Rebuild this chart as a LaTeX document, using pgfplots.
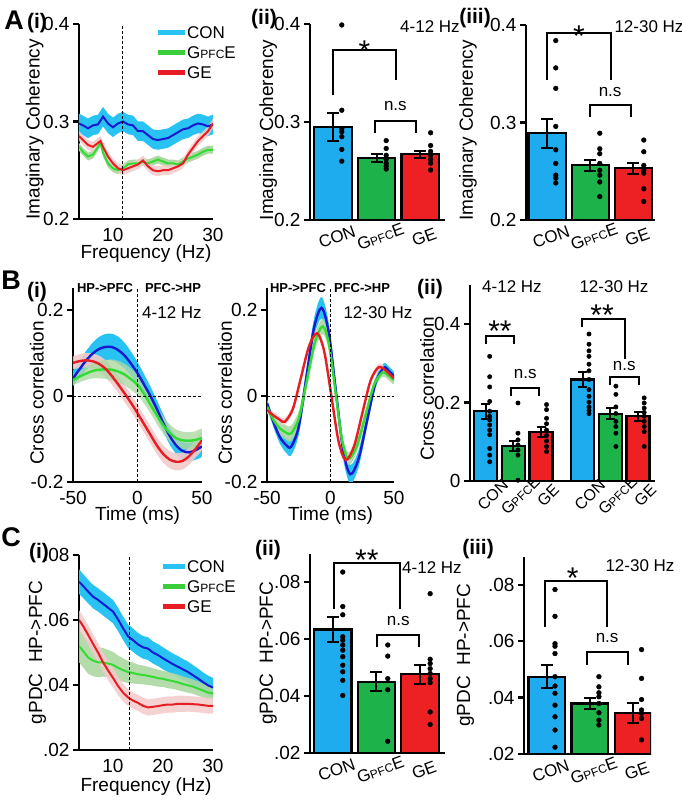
\documentclass[border=0pt]{standalone}
\usepackage{fontspec}
\setmainfont{Liberation Sans}
\usepackage{pgfplots}
\pgfplotsset{compat=1.18}
\usepackage{pgfplotstable}

\definecolor{conband}{RGB}{40,195,242}
\definecolor{conline}{RGB}{25,25,210}
\definecolor{gband}{RGB}{172,216,162}
\definecolor{gline}{RGB}{50,220,50}
\definecolor{geband}{RGB}{242,202,202}
\definecolor{geline}{RGB}{230,30,35}
\definecolor{conbar}{RGB}{30,172,238}
\definecolor{gbar}{RGB}{30,178,75}
\definecolor{gebar}{RGB}{237,32,36}
\definecolor{leggreen}{RGB}{60,205,60}

\newcommand{\gp}{G{\fontsize{12}{12}\selectfont PFC}E}
\newcommand{\fs}[1]{\fontsize{#1}{#1}\selectfont}

% ---------- A(i) mean curves ----------
\pgfplotstableread{
x y
3.2 0.298
4 0.296
5 0.293
6 0.296
7 0.297
8 0.305
9 0.298
10 0.294
11 0.298
12 0.300
13 0.297
14 0.296
15 0.290
16 0.290
17 0.286
18 0.282
19 0.281
20 0.282
21 0.283
22 0.286
23 0.289
24 0.292
25 0.293
26 0.296
27 0.298
28 0.297
29 0.295
30 0.297
}\AconT
\pgfplotstableread{
x y
3.2 0.274
4 0.269
5 0.264
6 0.266
7 0.274
7.5 0.278
8 0.268
9 0.257
10 0.252
11 0.250
12 0.252
13 0.256
14 0.257
15 0.257
16 0.259
17 0.257
18 0.259
19 0.261
20 0.259
21 0.257
22 0.257
23 0.256
24 0.259
25 0.262
26 0.264
27 0.266
28 0.269
29 0.271
30 0.271
}\AgT
\pgfplotstableread{
x y
3.2 0.285
4 0.281
5 0.276
6 0.274
7 0.278
7.5 0.280
8 0.274
9 0.264
10 0.257
11 0.252
12 0.250
13 0.252
14 0.254
15 0.256
16 0.260
17 0.254
18 0.250
19 0.249
20 0.250
21 0.250
22 0.252
23 0.254
24 0.257
25 0.266
26 0.273
27 0.280
28 0.285
29 0.290
30 0.298
}\AgeT

% ---------- B(i) 4-12 Hz mean curves ----------
\pgfplotstableread{
x y
-50 0.041
-45 0.062
-40 0.082
-35 0.098
-30 0.109
-25 0.114
-20 0.114
-15 0.107
-10 0.094
-5 0.075
0 0.053
5 0.027
10 0.000
15 -0.030
20 -0.063
25 -0.093
30 -0.115
35 -0.128
40 -0.131
45 -0.126
50 -0.117
}\BconA
\pgfplotstableread{
x y
-50 0.037
-45 0.045
-40 0.052
-35 0.058
-30 0.061
-25 0.062
-20 0.061
-15 0.057
-10 0.050
-5 0.039
0 0.026
5 0.005
10 -0.020
15 -0.045
20 -0.068
25 -0.086
30 -0.098
35 -0.103
40 -0.104
45 -0.102
50 -0.098
}\BgA
\pgfplotstableread{
x y
-50 0.077
-45 0.081
-40 0.083
-35 0.081
-30 0.075
-25 0.064
-20 0.047
-15 0.027
-10 0.006
-5 -0.016
0 -0.040
5 -0.065
10 -0.090
15 -0.115
20 -0.135
25 -0.148
30 -0.153
35 -0.151
40 -0.140
45 -0.123
50 -0.103
}\BgeA

% ---------- B(i) 12-30 Hz mean curves ----------
\pgfplotstableread{
x y
-50 -0.017
-45 -0.060
-40 -0.095
-35 -0.114
-31 -0.118
-25 -0.071
-19 0.0435
-13 0.158
-7 0.205
-1.4 0.148
4.25 0.0115
9.9 -0.125
15.5 -0.182
22.1 -0.146
28.75 -0.058
35.4 0.030
42 0.066
46 0.058
50 0.046
}\BconB
\pgfplotstableread{
x y
-50 -0.025
-45 -0.055
-40 -0.075
-35 -0.085
-31 -0.087
-24.75 -0.0505
-18.5 0.0375
-12.25 0.1255
-6 0.162
-1 0.117
4 0.008
9 -0.101
14 -0.146
20.75 -0.1166
27.5 -0.0455
34.25 0.0256
41 0.055
45 0.049
50 0.037
}\BgB
\pgfplotstableread{
x y
-50 -0.033
-45 -0.045
-40 -0.055
-36 -0.060
-29.6 -0.0298
-23.25 0.043
-16.9 0.1158
-10.5 0.146
-4.875 0.1028
0.75 -0.0015
6.375 -0.1058
12 -0.149
18.5 -0.1174
25 -0.041
31.5 0.0354
38 0.067
44 0.058
50 0.041
}\BgeB

% ---------- C(i) mean curves ----------
\pgfplotstableread{
x y
3.2 0.0718
4 0.0705
5 0.0688
6 0.0672
7 0.0662
8 0.0650
9 0.0638
10 0.0626
11 0.0602
12 0.0575
13 0.0550
14 0.0538
15 0.0525
16 0.0516
17 0.0512
18 0.0500
19 0.0492
20 0.0482
21 0.0473
22 0.0464
23 0.0456
24 0.0448
25 0.0440
26 0.0430
27 0.0420
28 0.0409
29 0.0399
30 0.0392
}\CconT
\pgfplotstableread{
x y
3.2 0.0520
4 0.0505
5 0.0485
6 0.0475
7 0.0470
8 0.0470
9 0.0466
10 0.0462
11 0.0453
12 0.0446
13 0.0440
14 0.0437
15 0.0433
16 0.0431
17 0.0428
18 0.0425
19 0.0421
20 0.0419
21 0.0415
22 0.0412
23 0.0408
24 0.0403
25 0.0399
26 0.0395
27 0.0389
28 0.0383
29 0.0377
30 0.0374
}\CgT
\pgfplotstableread{
x y
3.2 0.0600
4 0.0582
5 0.0555
6 0.0527
7 0.0500
8 0.0470
9 0.0445
10 0.0422
11 0.0397
12 0.0377
13 0.0362
14 0.0352
15 0.0345
16 0.0336
17 0.0331
18 0.0333
19 0.0335
20 0.0338
21 0.0340
22 0.0340
23 0.0342
24 0.0342
25 0.0342
26 0.0341
27 0.0340
28 0.0338
29 0.0336
30 0.0336
}\CgeT

\pgfplotsset{
  panel/.style={
    scale only axis, anchor=south west,
    axis lines=left, axis line style={line width=2.4pt,-},
    tick align=outside, major tick length=6pt,
    ytick style={line width=2.2pt,black},
    xtick style={draw=none},
    scaled y ticks=false, scaled x ticks=false,
    ticklabel style={font=\fs{19}},
    label style={font=\fs{19}},
    /pgf/number format/assume math mode=true,
  },
  barpanel/.style={panel, clip mode=individual,
    xticklabel style={font=\fs{17}, rotate=20, anchor=north, yshift=-2pt}},
  errb/.style={error bars/.cd, y dir=both, y explicit,
    error bar style={line width=2pt, black},
    error mark options={rotate=90, mark size=#1, line width=2pt, black}},
  dots/.style={only marks, mark=*, mark size=2.4pt, black, mark options={fill=black}},
}
\tikzset{star/.style={font=\fs{30}, inner sep=0pt}}

\begin{document}
\begin{tikzpicture}
\useasboundingbox (0,0) rectangle (682pt,801pt);

% ================= A(i) =================
\begin{axis}[panel, at={(79pt,582pt)}, width=134pt, height=195pt,
  xmin=3.2, xmax=30, ymin=0.2, ymax=0.4,
  xtick={10,20,30}, ytick={0.2,0.3,0.4}, yticklabels={0.2,0.3,0.4},
  ylabel={Imaginary Coherency}, xlabel={Frequency (Hz)},
  ylabel style={at={(axis description cs:-0.33,0.46)}, anchor=center},
  xlabel style={at={(axis description cs:0.5,-0.175)}, anchor=center}]
\addplot[fill=conband, draw=none] coordinates {
(3.2,0.308) (4,0.306) (5,0.303) (6,0.306) (7,0.307) (8,0.315) (9,0.308) (10,0.304) (11,0.308) (12,0.310) (13,0.307) (14,0.306) (15,0.300) (16,0.300) (17,0.296) (18,0.292) (19,0.291) (20,0.292) (21,0.293) (22,0.296) (23,0.299) (24,0.302) (25,0.303) (26,0.306) (27,0.308) (28,0.307) (29,0.305) (30,0.307)
(30,0.287) (29,0.285) (28,0.287) (27,0.288) (26,0.286) (25,0.283) (24,0.282) (23,0.279) (22,0.276) (21,0.273) (20,0.272) (19,0.271) (18,0.272) (17,0.276) (16,0.280) (15,0.280) (14,0.286) (13,0.287) (12,0.290) (11,0.288) (10,0.284) (9,0.288) (8,0.295) (7,0.287) (6,0.286) (5,0.283) (4,0.286) (3.2,0.288)};
\addplot[fill=gband, draw=none] coordinates {
(3.2,0.278) (4,0.273) (5,0.268) (6,0.270) (7,0.278) (7.5,0.282) (8,0.272) (9,0.261) (10,0.256) (11,0.254) (12,0.256) (13,0.260) (14,0.261) (15,0.261) (16,0.263) (17,0.261) (18,0.263) (19,0.265) (20,0.263) (21,0.261) (22,0.261) (23,0.260) (24,0.263) (25,0.266) (26,0.268) (27,0.270) (28,0.273) (29,0.275) (30,0.275)
(30,0.267) (29,0.267) (28,0.265) (27,0.262) (26,0.260) (25,0.258) (24,0.255) (23,0.252) (22,0.253) (21,0.253) (20,0.255) (19,0.257) (18,0.255) (17,0.253) (16,0.255) (15,0.253) (14,0.253) (13,0.252) (12,0.248) (11,0.246) (10,0.248) (9,0.253) (8,0.264) (7.5,0.274) (7,0.270) (6,0.262) (5,0.260) (4,0.265) (3.2,0.270)};
\addplot[fill=geband, draw=none, opacity=0.85] coordinates {
(3.2,0.290) (4,0.286) (5,0.281) (6,0.279) (7,0.283) (7.5,0.285) (8,0.279) (9,0.269) (10,0.262) (11,0.257) (12,0.255) (13,0.257) (14,0.259) (15,0.261) (16,0.265) (17,0.259) (18,0.255) (19,0.254) (20,0.255) (21,0.255) (22,0.257) (23,0.259) (24,0.262) (25,0.271) (26,0.278) (27,0.285) (28,0.290) (29,0.295) (30,0.303)
(30,0.293) (29,0.285) (28,0.280) (27,0.275) (26,0.268) (25,0.261) (24,0.252) (23,0.249) (22,0.247) (21,0.245) (20,0.245) (19,0.244) (18,0.245) (17,0.249) (16,0.255) (15,0.251) (14,0.249) (13,0.247) (12,0.245) (11,0.247) (10,0.252) (9,0.259) (8,0.269) (7.5,0.275) (7,0.273) (6,0.269) (5,0.271) (4,0.276) (3.2,0.280)};
\addplot[conline, line width=2pt] table[x=x,y=y] {\AconT};
\addplot[gline, line width=2pt] table[x=x,y=y] {\AgT};
\addplot[geline, line width=2pt] table[x=x,y=y] {\AgeT};
\draw[black, line width=0.8pt, dash pattern=on 3pt off 2pt] (axis cs:11.8,0.2) -- (axis cs:11.8,0.4);
\end{axis}

% ================= A(ii) =================
\begin{axis}[barpanel, at={(310pt,581pt)}, width=135pt, height=196pt,
  xmin=-0.53, xmax=2.57, ymin=0.2, ymax=0.4,
  xtick={0,1,2}, xticklabels={CON,\gp,GE},
  ytick={0.2,0.3,0.4}, yticklabels={0.2,0.3,0.4},
  ylabel={Imaginary Coherency},
  ylabel style={at={(axis description cs:-0.31,0.46)}, anchor=center}]
\addplot[ybar, bar width=0.86, fill=conbar, draw=black, line width=2.2pt, errb=6pt] coordinates {(0,0.295) +- (0,0.014)};
\addplot[ybar, bar width=0.86, fill=gbar, draw=black, line width=2.2pt, errb=6pt] coordinates {(1,0.263) +- (0,0.004)};
\addplot[ybar, bar width=0.86, fill=gebar, draw=black, line width=2.2pt, errb=6pt] coordinates {(2,0.267) +- (0,0.0037)};
\addplot[dots] coordinates {(0.2,0.399) (0.2,0.312) (0.2,0.293) (0.2,0.290) (0.2,0.285) (0.2,0.272) (0.2,0.260)
 (1.22,0.281) (1.22,0.273) (1.22,0.266) (1.22,0.262) (1.22,0.258) (1.22,0.255) (1.22,0.252)
 (2.24,0.289) (2.24,0.276) (2.24,0.270) (2.24,0.266) (2.24,0.262) (2.24,0.258) (2.24,0.251)};
\draw[line width=2pt] (axis cs:0,0.328) |- (axis cs:1.45,0.373) -- (axis cs:1.45,0.343);
\draw[line width=2pt] (axis cs:0.97,0.289) |- (axis cs:1.9,0.301) -- (axis cs:1.9,0.289);
\node[star] at (axis cs:0.72,0.372) {*};
\node[font=\fs{17}] at (axis cs:1.43,0.316) {n.s};
\end{axis}

% ================= A(iii) =================
\begin{axis}[barpanel, at={(526pt,581pt)}, width=129pt, height=195pt,
  xmin=-0.49, xmax=2.5, ymin=0.2, ymax=0.4,
  xtick={0,1,2}, xticklabels={CON,\gp,GE},
  ytick={0.2,0.3,0.4}, yticklabels={0.2,0.3,0.4},
  ylabel={Imaginary Coherency},
  ylabel style={at={(axis description cs:-0.45,0.46)}, anchor=center}]
\addplot[ybar, bar width=0.86, fill=conbar, draw=black, line width=2.2pt, errb=6pt] coordinates {(0,0.289) +- (0,0.015)};
\addplot[ybar, bar width=0.86, fill=gbar, draw=black, line width=2.2pt, errb=6pt] coordinates {(1,0.256) +- (0,0.006)};
\addplot[ybar, bar width=0.86, fill=gebar, draw=black, line width=2.2pt, errb=6pt] coordinates {(2,0.253) +- (0,0.0055)};
\addplot[dots] coordinates {(0.2,0.384) (0.2,0.356) (0.2,0.335) (0.2,0.296) (0.2,0.272) (0.2,0.258) (0.2,0.246) (0.2,0.243) (0.2,0.238)
 (1.22,0.289) (1.22,0.273) (1.22,0.268) (1.22,0.258) (1.22,0.251) (1.22,0.246) (1.22,0.239) (1.22,0.224)
 (2.24,0.282) (2.24,0.270) (2.24,0.256) (2.24,0.251) (2.24,0.248) (2.24,0.232) (2.24,0.219)};
\draw[line width=2pt] (axis cs:0,0.344) |- (axis cs:1.48,0.392) -- (axis cs:1.48,0.344);
\draw[line width=2pt] (axis cs:1.0,0.306) |- (axis cs:1.94,0.318) -- (axis cs:1.94,0.306);
\node[star] at (axis cs:0.74,0.389) {*};
\node[font=\fs{17}] at (axis cs:1.46,0.331) {n.s};
\end{axis}

% ================= B(i) 4-12 =================
\begin{axis}[panel, at={(73pt,319pt)}, width=129pt, height=193.5pt,
  xmin=-50, xmax=50, ymin=-0.2, ymax=0.25,
  xtick={-50,0,50}, ytick={-0.2,0,0.2}, yticklabels={-0.2,0,0.2},
  ylabel={Cross correlation}, xlabel={Time (ms)},
  ylabel style={at={(axis description cs:-0.28,0.46)}, anchor=center},
  xlabel style={at={(axis description cs:0.5,-0.175)}, anchor=center}]
\addplot[fill=conband, draw=none, smooth] coordinates {
(-50,0.059) (-45,0.082) (-40,0.104) (-35,0.123) (-30,0.137) (-25,0.144) (-20,0.145) (-15,0.138) (-10,0.124) (-5,0.103) (0,0.079) (5,0.051) (10,0.022) (15,-0.010) (20,-0.043) (25,-0.073) (30,-0.095) (35,-0.107) (40,-0.109) (45,-0.104) (50,-0.095)
(50,-0.139) (45,-0.148) (40,-0.153) (35,-0.149) (30,-0.135) (25,-0.113) (20,-0.083) (15,-0.050) (10,-0.022) (5,0.003) (0,0.027) (-5,0.047) (-10,0.064) (-15,0.076) (-20,0.083) (-25,0.084) (-30,0.081) (-35,0.073) (-40,0.060) (-45,0.042) (-50,0.023)};
\addplot[fill=geband, draw=none, smooth, opacity=0.9] coordinates {
(-50,0.092) (-45,0.097) (-40,0.100) (-35,0.099) (-30,0.094) (-25,0.084) (-20,0.067) (-15,0.047) (-10,0.026) (-5,0.004) (0,-0.020) (5,-0.045) (10,-0.070) (15,-0.095) (20,-0.115) (25,-0.128) (30,-0.133) (35,-0.131) (40,-0.120) (45,-0.103) (50,-0.083)
(50,-0.123) (45,-0.143) (40,-0.160) (35,-0.171) (30,-0.173) (25,-0.168) (20,-0.155) (15,-0.135) (10,-0.110) (5,-0.085) (0,-0.060) (-5,-0.036) (-10,-0.014) (-15,0.007) (-20,0.027) (-25,0.044) (-30,0.056) (-35,0.063) (-40,0.066) (-45,0.065) (-50,0.062)};
\addplot[fill=gband, draw=none, smooth, opacity=0.8] coordinates {
(-50,0.049) (-45,0.058) (-40,0.067) (-35,0.075) (-30,0.081) (-25,0.084) (-20,0.085) (-15,0.082) (-10,0.075) (-5,0.064) (0,0.050) (5,0.027) (10,0.000) (15,-0.025) (20,-0.048) (25,-0.066) (30,-0.078) (35,-0.083) (40,-0.084) (45,-0.082) (50,-0.078)
(50,-0.118) (45,-0.122) (40,-0.124) (35,-0.123) (30,-0.118) (25,-0.106) (20,-0.088) (15,-0.065) (10,-0.040) (5,-0.017) (0,0.002) (-5,0.014) (-10,0.025) (-15,0.032) (-20,0.037) (-25,0.040) (-30,0.041) (-35,0.041) (-40,0.037) (-45,0.032) (-50,0.025)};
\addplot[conline, line width=2.4pt, smooth] table[x=x,y=y] {\BconA};
\addplot[gline, line width=2.4pt, smooth] table[x=x,y=y] {\BgA};
\addplot[geline, line width=2.4pt, smooth] table[x=x,y=y] {\BgeA};
\draw[black, line width=0.8pt, dash pattern=on 3pt off 2pt] (axis cs:0,-0.2) -- (axis cs:0,0.25);
\draw[black, line width=0.8pt, dash pattern=on 3pt off 2pt] (axis cs:-50,0) -- (axis cs:50,0);
\end{axis}

% ================= B(i) 12-30 =================
\begin{axis}[panel, at={(267pt,319pt)}, width=127pt, height=193.5pt,
  xmin=-50, xmax=50, ymin=-0.2, ymax=0.25,
  xtick={-50,0,50}, ytick={-0.2,0,0.2}, yticklabels={-0.2,0,0.2},
  ylabel={Cross correlation}, xlabel={Time (ms)},
  ylabel style={at={(axis description cs:-0.33,0.46)}, anchor=center},
  xlabel style={at={(axis description cs:0.5,-0.175)}, anchor=center}]
\addplot[fill=conband, draw=none, smooth] coordinates {
(-50,-0.007) (-45,-0.048) (-40,-0.080) (-35,-0.096) (-31,-0.098) (-25,-0.051) (-19,0.0635) (-13,0.180) (-7,0.230) (-1.4,0.170) (4.25,0.0315) (9.9,-0.105) (15.5,-0.160) (22.1,-0.126) (28.75,-0.043) (35.4,0.042) (42,0.076) (46,0.068) (50,0.056)
(50,0.036) (46,0.048) (42,0.056) (35.4,0.018) (28.75,-0.073) (22.1,-0.166) (15.5,-0.204) (9.9,-0.145) (4.25,-0.0085) (-1.4,0.126) (-7,0.180) (-13,0.136) (-19,0.0235) (-25,-0.091) (-31,-0.138) (-35,-0.132) (-40,-0.110) (-45,-0.072) (-50,-0.027)};
\addplot[fill=gband, draw=none, smooth, opacity=0.9] coordinates {
(-50,-0.015) (-45,-0.043) (-40,-0.060) (-35,-0.068) (-31,-0.069) (-24.75,-0.0325) (-18.5,0.0555) (-12.25,0.1435) (-6,0.180) (-1,0.133) (4,0.023) (9,-0.086) (14,-0.131) (20.75,-0.1026) (27.5,-0.0335) (34.25,0.0356) (41,0.065) (45,0.059) (50,0.047)
(50,0.027) (45,0.039) (41,0.045) (34.25,0.0156) (27.5,-0.0575) (20.75,-0.1306) (14,-0.161) (9,-0.116) (4,-0.007) (-1,0.101) (-6,0.144) (-12.25,0.1075) (-18.5,0.0195) (-24.75,-0.0685) (-31,-0.105) (-35,-0.102) (-40,-0.090) (-45,-0.067) (-50,-0.035)};
\addplot[fill=geband, draw=none, smooth, opacity=0.8] coordinates {
(-50,-0.025) (-45,-0.037) (-40,-0.047) (-36,-0.052) (-29.6,-0.0218) (-23.25,0.051) (-16.9,0.1238) (-10.5,0.154) (-4.875,0.1108) (0.75,0.0065) (6.375,-0.0978) (12,-0.139) (18.5,-0.1074) (25,-0.033) (31.5,0.0434) (38,0.075) (44,0.066) (50,0.049)
(50,0.033) (44,0.050) (38,0.059) (31.5,0.0274) (25,-0.049) (18.5,-0.1274) (12,-0.159) (6.375,-0.1138) (0.75,-0.0095) (-4.875,0.0948) (-10.5,0.138) (-16.9,0.1078) (-23.25,0.035) (-29.6,-0.0378) (-36,-0.068) (-40,-0.063) (-45,-0.053) (-50,-0.041)};
\addplot[conline, line width=2.4pt, smooth] table[x=x,y=y] {\BconB};
\addplot[gline, line width=2.4pt, smooth] table[x=x,y=y] {\BgB};
\addplot[geline, line width=2.4pt, smooth] table[x=x,y=y] {\BgeB};
\draw[black, line width=0.8pt, dash pattern=on 3pt off 2pt] (axis cs:0,-0.2) -- (axis cs:0,0.25);
\draw[black, line width=0.8pt, dash pattern=on 3pt off 2pt] (axis cs:-50,0) -- (axis cs:50,0);
\end{axis}

% ================= B(ii) =================
\begin{axis}[barpanel, at={(470pt,320pt)}, width=185pt, height=196pt,
  xmin=-0.56, xmax=6.11, ymin=0, ymax=0.5,
  xtick={0,1,2,3.5,4.5,5.5}, xticklabels={CON,\gp,GE,CON,\gp,GE},
  xticklabel style={rotate=25, font=\fs{16}},
  ytick={0,0.2,0.4}, yticklabels={0,0.2,0.4},
  ylabel={Cross correlation},
  ylabel style={at={(axis description cs:-0.232,0.47)}, anchor=center}]
\addplot[ybar, bar width=0.83, fill=conbar, draw=black, line width=2.2pt, errb=4.5pt] coordinates {(0,0.178) +- (0,0.019)};
\addplot[ybar, bar width=0.83, fill=gbar, draw=black, line width=2.2pt, errb=4.5pt] coordinates {(1,0.090) +- (0,0.013)};
\addplot[ybar, bar width=0.83, fill=gebar, draw=black, line width=2.2pt, errb=4.5pt] coordinates {(2,0.124) +- (0,0.013)};
\addplot[ybar, bar width=0.83, fill=conbar, draw=black, line width=2.2pt, errb=4.5pt] coordinates {(3.5,0.259) +- (0,0.019)};
\addplot[ybar, bar width=0.83, fill=gbar, draw=black, line width=2.2pt, errb=4.5pt] coordinates {(4.5,0.171) +- (0,0.014)};
\addplot[ybar, bar width=0.83, fill=gebar, draw=black, line width=2.2pt, errb=4.5pt] coordinates {(5.5,0.165) +- (0,0.012)};
\addplot[dots, mark size=2.2pt] coordinates {
 (0.15,0.318) (0.15,0.266) (0.15,0.240) (0.15,0.203) (0.15,0.178) (0.15,0.165) (0.15,0.156) (0.15,0.143) (0.15,0.130) (0.15,0.118) (0.15,0.083) (0.15,0.066) (0.15,0.049)
 (1.17,0.199) (1.17,0.122) (1.17,0.105) (1.17,0.092) (1.17,0.079) (1.17,0.066) (1.17,0.002)
 (2.2,0.195) (2.2,0.182) (2.2,0.160) (2.2,0.146) (2.2,0.130) (2.2,0.116) (2.2,0.102) (2.2,0.088) (2.2,0.075)
 (3.73,0.375) (3.73,0.349) (3.73,0.332) (3.73,0.318) (3.73,0.298) (3.73,0.281) (3.73,0.259) (3.73,0.233) (3.73,0.216) (3.73,0.201) (3.73,0.189) (3.73,0.180) (3.73,0.172)
 (4.7,0.242) (4.7,0.221) (4.7,0.189) (4.7,0.172) (4.7,0.152) (4.7,0.139) (4.7,0.122) (4.7,0.088)
 (5.72,0.212) (5.72,0.199) (5.72,0.186) (5.72,0.175) (5.72,0.165) (5.72,0.152) (5.72,0.139) (5.72,0.126) (5.72,0.088)};
\draw[line width=2pt] (axis cs:0,0.349) |- (axis cs:1.04,0.371) -- (axis cs:1.04,0.349);
\draw[line width=2pt] (axis cs:0.92,0.216) |- (axis cs:1.94,0.236) -- (axis cs:1.94,0.216);
\draw[line width=2pt] (axis cs:3.46,0.392) |- (axis cs:5.02,0.414) -- (axis cs:5.02,0.311);
\draw[line width=2pt] (axis cs:4.5,0.246) |- (axis cs:5.53,0.266) -- (axis cs:5.53,0.246);
\node[star] at (axis cs:0.52,0.382) {**};
\node[font=\fs{17}] at (axis cs:1.43,0.274) {n.s};
\node[star] at (axis cs:4.2,0.422) {**};
\node[font=\fs{17}] at (axis cs:5.0,0.294) {n.s};
\end{axis}

% ================= C(i) =================
\begin{axis}[panel, at={(79pt,51pt)}, width=134pt, height=195pt,
  xmin=3.2, xmax=30, ymin=0.02, ymax=0.08,
  xtick={10,20,30}, ytick={0.02,0.04,0.06,0.08}, yticklabels={.02,.04,.06,.08},
  ylabel={gPDC\ \ HP->PFC}, xlabel={Frequency (Hz)},
  ylabel style={at={(axis description cs:-0.31,0.5)}, anchor=center},
  xlabel style={at={(axis description cs:0.5,-0.19)}, anchor=center}]
\addplot[fill=conband, draw=none] coordinates {
(3.2,0.0756) (4,0.0742) (5,0.0724) (6,0.0708) (7,0.0698) (8,0.0686) (9,0.0674) (10,0.0662) (11,0.0638) (12,0.0611) (13,0.0586) (14,0.0574) (15,0.0560) (16,0.0551) (17,0.0547) (18,0.0534) (19,0.0526) (20,0.0516) (21,0.0506) (22,0.0497) (23,0.0489) (24,0.0480) (25,0.0472) (26,0.0461) (27,0.0451) (28,0.0439) (29,0.0429) (30,0.0422)
(30,0.0362) (29,0.0369) (28,0.0379) (27,0.0389) (26,0.0399) (25,0.0408) (24,0.0416) (23,0.0423) (22,0.0431) (21,0.0440) (20,0.0448) (19,0.0458) (18,0.0466) (17,0.0477) (16,0.0481) (15,0.0490) (14,0.0502) (13,0.0514) (12,0.0539) (11,0.0566) (10,0.0590) (9,0.0602) (8,0.0614) (7,0.0626) (6,0.0636) (5,0.0652) (4,0.0668) (3.2,0.0680)};
\addplot[fill=gband, draw=none, opacity=0.9] coordinates {
(3.2,0.0570) (4,0.0555) (5,0.0535) (6,0.0523) (7,0.0516) (8,0.0514) (9,0.0508) (10,0.0502) (11,0.0491) (12,0.0482) (13,0.0474) (14,0.0469) (15,0.0463) (16,0.0460) (17,0.0456) (18,0.0452) (19,0.0447) (20,0.0444) (21,0.0440) (22,0.0436) (23,0.0432) (24,0.0426) (25,0.0422) (26,0.0417) (27,0.0411) (28,0.0404) (29,0.0398) (30,0.0394)
(30,0.0354) (29,0.0356) (28,0.0362) (27,0.0367) (26,0.0373) (25,0.0376) (24,0.0380) (23,0.0384) (22,0.0388) (21,0.0390) (20,0.0394) (19,0.0395) (18,0.0398) (17,0.0400) (16,0.0402) (15,0.0403) (14,0.0405) (13,0.0406) (12,0.0410) (11,0.0415) (10,0.0422) (9,0.0424) (8,0.0426) (7,0.0424) (6,0.0427) (5,0.0435) (4,0.0455) (3.2,0.0470)};
\addplot[fill=geband, draw=none, opacity=0.85] coordinates {
(3.2,0.0630) (4,0.0612) (5,0.0585) (6,0.0557) (7,0.0530) (8,0.0500) (9,0.0475) (10,0.0452) (11,0.0425) (12,0.0404) (13,0.0388) (14,0.0377) (15,0.0370) (16,0.0361) (17,0.0356) (18,0.0358) (19,0.0360) (20,0.0363) (21,0.0365) (22,0.0365) (23,0.0367) (24,0.0367) (25,0.0366) (26,0.0365) (27,0.0364) (28,0.0362) (29,0.0360) (30,0.0360)
(30,0.0312) (29,0.0312) (28,0.0314) (27,0.0316) (26,0.0317) (25,0.0318) (24,0.0317) (23,0.0317) (22,0.0315) (21,0.0315) (20,0.0313) (19,0.0310) (18,0.0308) (17,0.0306) (16,0.0311) (15,0.0320) (14,0.0327) (13,0.0336) (12,0.0350) (11,0.0369) (10,0.0392) (9,0.0415) (8,0.0440) (7,0.0470) (6,0.0497) (5,0.0525) (4,0.0552) (3.2,0.0570)};
\addplot[conline, line width=2pt] table[x=x,y=y] {\CconT};
\addplot[gline, line width=2pt] table[x=x,y=y] {\CgT};
\addplot[geline, line width=2pt] table[x=x,y=y] {\CgeT};
\draw[black, line width=0.8pt, dash pattern=on 3pt off 2pt] (axis cs:13.2,0.02) -- (axis cs:13.2,0.08);
\end{axis}

% ================= C(ii) =================
\begin{axis}[barpanel, at={(310pt,48pt)}, width=135pt, height=199.5pt,
  xmin=-0.52, xmax=2.57, ymin=0.02, ymax=0.09,
  xtick={0,1,2}, xticklabels={CON,\gp,GE},
  ytick={0.02,0.04,0.06,0.08}, yticklabels={.02,.04,.06,.08},
  ylabel={gPDC\ \ HP->PFC},
  ylabel style={at={(axis description cs:-0.31,0.5)}, anchor=center}]
\addplot[ybar, bar width=0.86, fill=conbar, draw=black, line width=2.2pt, errb=6pt] coordinates {(0,0.0633) +- (0,0.0044)};
\addplot[ybar, bar width=0.86, fill=gbar, draw=black, line width=2.2pt, errb=6pt] coordinates {(1,0.0450) +- (0,0.0033)};
\addplot[ybar, bar width=0.86, fill=gebar, draw=black, line width=2.2pt, errb=6pt] coordinates {(2,0.0476) +- (0,0.0033)};
\addplot[dots] coordinates {(0.23,0.0835) (0.23,0.0714) (0.23,0.0685) (0.23,0.0608) (0.23,0.0596) (0.23,0.0579) (0.23,0.0561) (0.23,0.0538) (0.23,0.0508) (0.23,0.0485) (0.23,0.0455) (0.23,0.0402)
 (1.26,0.0579) (1.26,0.0540) (1.26,0.0461) (1.26,0.0422) (1.26,0.0241)
 (2.23,0.0759) (2.23,0.0529) (2.23,0.0514) (2.23,0.0496) (2.23,0.0479) (2.23,0.0461) (2.23,0.0447) (2.23,0.0344) (2.23,0.0300)};
\draw[line width=2pt] (axis cs:0.04,0.0706) |- (axis cs:1.53,0.0868) -- (axis cs:1.53,0.0706);
\draw[line width=2pt] (axis cs:1.02,0.0571) |- (axis cs:1.97,0.0614) -- (axis cs:1.97,0.0571);
\node[star] at (axis cs:0.78,0.0875) {**};
\node[font=\fs{17}] at (axis cs:1.5,0.0663) {n.s};
\end{axis}

% ================= C(iii) =================
\begin{axis}[barpanel, at={(524pt,47pt)}, width=127pt, height=197.5pt,
  xmin=-0.53, xmax=2.42, ymin=0.02, ymax=0.09,
  xtick={0,1,2}, xticklabels={CON,\gp,GE},
  ytick={0.02,0.04,0.06,0.08}, yticklabels={.02,.04,.06,.08},
  ylabel={gPDC\ \ HP->PFC},
  ylabel style={at={(axis description cs:-0.46,0.5)}, anchor=center}]
\addplot[ybar, bar width=0.85, fill=conbar, draw=black, line width=2.2pt, errb=6pt] coordinates {(0,0.0474) +- (0,0.0041)};
\addplot[ybar, bar width=0.85, fill=gbar, draw=black, line width=2.2pt, errb=6pt] coordinates {(1,0.0379) +- (0,0.0020)};
\addplot[ybar, bar width=0.85, fill=gebar, draw=black, line width=2.2pt, errb=6pt] coordinates {(2,0.0344) +- (0,0.0035)};
\addplot[dots] coordinates {(0.19,0.0783) (0.19,0.0688) (0.19,0.0591) (0.19,0.0582) (0.19,0.0556) (0.19,0.0474) (0.19,0.0441) (0.19,0.0415) (0.19,0.0373) (0.19,0.0332) (0.19,0.0285) (0.19,0.0224)
 (1.21,0.0474) (1.21,0.0438) (1.21,0.0417) (1.21,0.0403) (1.21,0.0379) (1.21,0.0346) (1.21,0.0320) (1.21,0.0303)
 (2.2,0.0570) (2.2,0.0468) (2.2,0.0393) (2.2,0.0356) (2.2,0.0344) (2.2,0.0326) (2.2,0.0250)};
\draw[line width=2pt] (axis cs:-0.05,0.065) |- (axis cs:1.4,0.0812) -- (axis cs:1.4,0.065);
\draw[line width=2pt] (axis cs:0.93,0.0515) |- (axis cs:1.88,0.0562) -- (axis cs:1.88,0.0515);
\node[star] at (axis cs:0.6,0.0822) {*};
\node[font=\fs{17}] at (axis cs:1.4,0.0610) {n.s};
\end{axis}

% ================= annotations =================
\node[font=\fs{27}\bfseries] at (14pt,781pt) {A};
\node[font=\fs{21}\bfseries] at (37pt,778pt) {(i)};
\node[font=\fs{21}\bfseries] at (264pt,782pt) {(ii)};
\node[font=\fs{21}\bfseries] at (475pt,783pt) {(iii)};
\node[font=\fs{27}\bfseries] at (11pt,521pt) {B};
\node[font=\fs{21}\bfseries] at (37pt,509pt) {(i)};
\node[font=\fs{21}\bfseries] at (430pt,512pt) {(ii)};
\node[font=\fs{27}\bfseries] at (11pt,264pt) {C};
\node[font=\fs{21}\bfseries] at (39pt,248pt) {(i)};
\node[font=\fs{21}\bfseries] at (268pt,251pt) {(ii)};
\node[font=\fs{21}\bfseries] at (478pt,252pt) {(iii)};
\node[font=\fs{17}] at (430pt,774pt) {4-12 Hz};
\node[font=\fs{17}] at (649pt,774pt) {12-30 Hz};
\node[font=\fs{13}\bfseries] at (105pt,513pt) {HP->PFC};
\node[font=\fs{13}\bfseries] at (173pt,513pt) {PFC->HP};
\node[font=\fs{17}] at (172pt,488pt) {4-12 Hz};
\node[font=\fs{13}\bfseries] at (298pt,513pt) {HP->PFC};
\node[font=\fs{13}\bfseries] at (362pt,513pt) {PFC->HP};
\node[font=\fs{17}] at (378pt,488pt) {12-30 Hz};
\node[font=\fs{17}] at (512pt,514pt) {4-12 Hz};
\node[font=\fs{17}] at (614pt,514pt) {12-30 Hz};
\node[font=\fs{17}] at (432pt,233pt) {4-12 Hz};
\node[font=\fs{17}] at (640pt,235pt) {12-30 Hz};
% legend A(i)
\draw[conband, line width=5pt] (158pt,768pt) -- (185pt,768pt);
\draw[leggreen, line width=5pt] (158pt,748pt) -- (185pt,748pt);
\draw[geline, line width=5pt] (158pt,728pt) -- (185pt,728pt);
\node[font=\fs{17}, anchor=west, inner sep=1pt] at (186pt,768pt) {CON};
\node[font=\fs{17}, anchor=west, inner sep=1pt] at (186pt,748pt) {\gp};
\node[font=\fs{17}, anchor=west, inner sep=1pt] at (186pt,728pt) {GE};
% legend C(i)
\draw[conband, line width=5pt] (163pt,234pt) -- (185pt,234pt);
\draw[leggreen, line width=5pt] (163pt,214pt) -- (185pt,214pt);
\draw[geline, line width=5pt] (163pt,194pt) -- (185pt,194pt);
\node[font=\fs{17}, anchor=west, inner sep=1pt] at (186pt,234pt) {CON};
\node[font=\fs{17}, anchor=west, inner sep=1pt] at (186pt,214pt) {\gp};
\node[font=\fs{17}, anchor=west, inner sep=1pt] at (186pt,194pt) {GE};
\end{tikzpicture}
\end{document}
